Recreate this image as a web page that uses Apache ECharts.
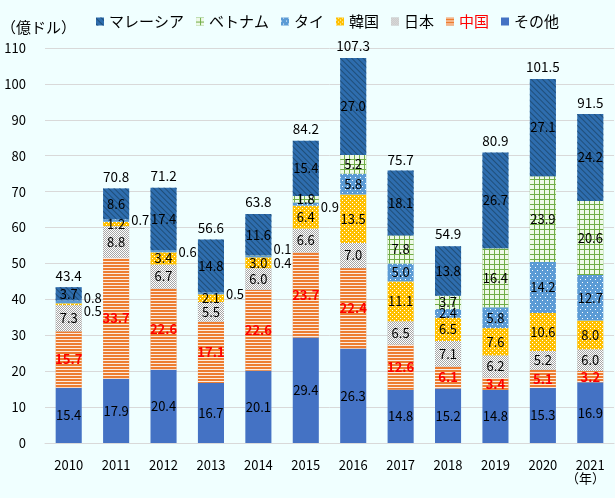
<!DOCTYPE html>
<html><head><meta charset="utf-8">
<script src="https://cdn.jsdelivr.net/npm/echarts@6/dist/echarts.min.js"></script>
<style>html,body{margin:0;padding:0;background:#F0FFFF;}#c{width:615px;height:498px;}</style>
</head><body><div id="c"></div>
<script>
const years = ['2010','2011','2012','2013','2014','2015','2016','2017','2018','2019','2020','2021'];
const other    = [15.4,17.9,20.4,16.7,20.1,29.4,26.3,14.8,15.2,14.8,15.3,16.9];
const china    = [15.7,33.7,22.6,17.1,22.6,23.7,22.4,12.6,6.1,3.4,5.1,3.2];
const japan    = [7.3,8.8,6.7,5.5,6.0,6.6,7.0,6.5,7.1,6.2,5.2,6.0];
const korea    = [0.5,1.2,3.4,2.1,3.0,6.4,13.5,11.1,6.5,7.6,10.6,8.0];
const thai     = [0.8,0.7,0.6,0.5,0.4,0.9,5.8,5.0,2.4,5.8,14.2,12.7];
const vietnam  = [0,0,0,0,0.1,1.8,5.2,7.8,3.7,16.4,23.9,20.6];
const malaysia = [3.7,8.6,17.4,14.8,11.6,15.4,27.0,18.1,13.8,26.7,27.1,24.2];
const totals   = [43.4,70.8,71.2,56.6,63.8,84.2,107.3,75.7,54.9,80.9,101.5,91.5];
const yTicks = [0,10,20,30,40,50,60,70,80,90,100,110];

const FONT = '"Noto Sans CJK JP", "Noto Sans", sans-serif';
// outside label placements (style only): name -> {index: [dx, dy]}
const outside = {
  '韓国': {0:[0,7]},
  'タイ': {0:[0,-4],1:[0,0],2:[0,1],3:[0,1],4:[0,6],5:[0,3]},
  'ベトナム': {4:[0,-7]}
};
function mkData(name, arr){
  return arr.map((v,i)=>{
    const o = outside[name] && outside[name][i];
    if (v === 0) return {value:v, label:{show:false}};
    if (o) return {value:v, label:{position:'right', distance:2, offset:o}};
    return v;
  });
}
const defs = [
  {name:'その他', data:other, color:'#4472C4'},
  {name:'中国', data:china, color:'#ED7D31', red:true,
   decal:{symbol:'rect', symbolSize:1, color:'rgba(255,255,255,0.85)', dashArrayX:[1,0], dashArrayY:[1,2]}},
  {name:'日本', data:japan, color:'#A5A5A5',
   decal:{symbol:'rect', symbolSize:1, color:'#FFFFFF', dashArrayX:[[1,1],[0,1,1,0]], dashArrayY:[1,0]}},
  {name:'韓国', data:korea, color:'#FFC000',
   decal:{symbol:'rect', symbolSize:1, color:'#FFFFFF', dashArrayX:[[1,3],[0,2,1,1]], dashArrayY:[1,1]}},
  {name:'タイ', data:thai, color:'#5B9BD5',
   decal:{symbol:'rect', symbolSize:1, color:'#FFFFFF', dashArrayX:[[1,4],[0,2,1,2]], dashArrayY:[1,2]}},
  {name:'ベトナム', data:vietnam, color:'#70AD47',
   decal:{symbol:'rect', symbolSize:1, color:'#EEF9E8', dashArrayX:[4,1], dashArrayY:[4,1]}},
  {name:'マレーシア', data:malaysia, color:'#2E6DAE',
   decal:{symbol:'rect', symbolSize:1, color:'#1F4E79', dashArrayX:[1,0], dashArrayY:[1,3], rotation:Math.PI/4}}
];
const series = defs.map(d=>({
  name:d.name, type:'bar', stack:'a', barCategoryGap:'45%', barGap:'-100%',
  data:mkData(d.name, d.data),
  itemStyle:{color:d.color, decal:d.decal || null},
  label:{show:true, position:'inside', fontFamily:FONT, fontSize:13,
    color: d.red ? '#FF0000' : '#000000', fontWeight: d.red ? 'bold' : 'normal',
    formatter:p=>p.value.toFixed(1)}
}));
series.push({
  name:'合計', type:'bar', barCategoryGap:'45%', barGap:'-100%', data:totals, silent:true,
  itemStyle:{color:'rgba(0,0,0,0)'}, z:1,
  label:{show:true, position:'top', distance:5, fontFamily:FONT, fontSize:13.5, color:'#000',
    formatter:p=>p.value.toFixed(1)}
});
const legendNames = ['マレーシア','ベトナム','タイ','韓国','日本','中国','その他'];
const chart = echarts.init(document.getElementById('c'));
chart.setOption({
  backgroundColor:'#F0FFFF',
  animation:false,
  textStyle:{fontFamily:FONT},
  legend:{
    data:legendNames.map(n=> n==='中国' ? {name:n, textStyle:{color:'#FF0000'}} : n),
    left:91, top:9, itemWidth:8, itemHeight:8, itemGap:12, icon:'rect',
    textStyle:{fontFamily:FONT, fontSize:15, color:'#000'}
  },
  grid:{left:45, right:1, top:48, bottom:55},
  xAxis:{type:'category', data:years,
    axisLine:{lineStyle:{color:'#D9D9D9'}}, axisTick:{show:false},
    axisLabel:{fontFamily:FONT, fontSize:13, color:'#000', margin:16}},
  yAxis:{type:'value', min:yTicks[0], max:yTicks[yTicks.length-1], interval:10,
    axisLine:{show:false}, axisTick:{show:false},
    splitLine:{lineStyle:{color:'#D9D9D9'}},
    axisLabel:{fontFamily:FONT, fontSize:13, color:'#000', margin:19}},
  graphic:[
    {type:'text', left:1, top:20, style:{text:'（億ドル）', font:'15px '+FONT, fill:'#000'}},
    {type:'text', left:566, top:472, style:{text:'（年）', font:'13px '+FONT, fill:'#000'}}
  ],
  series:series
});
</script></body></html>
